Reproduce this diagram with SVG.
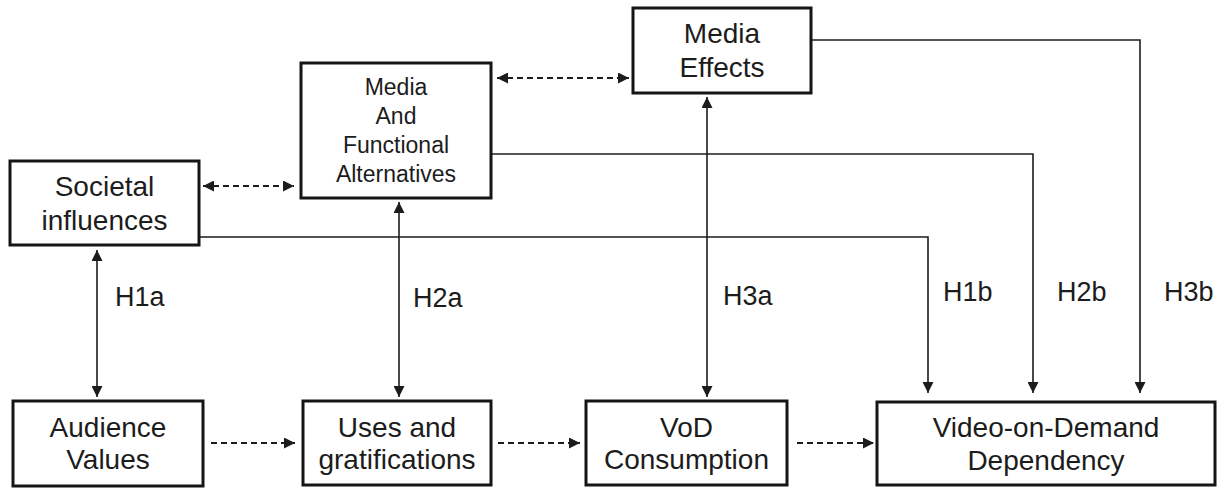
<svg xmlns="http://www.w3.org/2000/svg" width="1227" height="489" viewBox="0 0 1227 489">
  <style>
    .box { fill: #ffffff; stroke: #151515; stroke-width: 3; }
    .lbl { font-family: "Liberation Sans", Arial, sans-serif; font-size: 28px; fill: #1c1c1c; text-anchor: middle; }
    .lbl-sm { font-family: "Liberation Sans", Arial, sans-serif; font-size: 23px; fill: #1c1c1c; text-anchor: middle; }
    .hyp { font-family: "Liberation Sans", Arial, sans-serif; font-size: 27px; fill: #1c1c1c; }
    .solid { fill: none; stroke: #1c1c1c; stroke-width: 1.6; }
    .dash { fill: none; stroke: #1c1c1c; stroke-width: 1.8; stroke-dasharray: 6 4; }
  </style>
  <defs>
    <marker id="arrow" viewBox="0 0 10 10" refX="10" refY="5" markerWidth="11" markerHeight="11" markerUnits="userSpaceOnUse" orient="auto-start-reverse">
      <path d="M0,0 L10,5 L0,10 z" fill="#1c1c1c"/>
    </marker>
  </defs>
  <rect width="1227" height="489" fill="#ffffff"/>

  <!-- connectors -->
  <g id="connectors">
    <!-- hypothesis links (solid) -->
    <line class="solid" x1="97" y1="250" x2="97" y2="397" marker-start="url(#arrow)" marker-end="url(#arrow)"/>
    <line class="solid" x1="399" y1="202" x2="399" y2="397" marker-start="url(#arrow)" marker-end="url(#arrow)"/>
    <line class="solid" x1="707" y1="97" x2="707" y2="397" marker-start="url(#arrow)" marker-end="url(#arrow)"/>
    <path class="solid" d="M199,237 H928 V393" marker-end="url(#arrow)"/>
    <path class="solid" d="M491,154 H1033 V393" marker-end="url(#arrow)"/>
    <path class="solid" d="M811,40 H1140 V393" marker-end="url(#arrow)"/>
    <!-- dashed links -->
    <line class="dash" x1="203" y1="186" x2="294" y2="186" marker-start="url(#arrow)" marker-end="url(#arrow)"/>
    <line class="dash" x1="497" y1="78" x2="629" y2="78" marker-start="url(#arrow)" marker-end="url(#arrow)"/>
    <line class="dash" x1="211" y1="443" x2="295" y2="443" marker-end="url(#arrow)"/>
    <line class="dash" x1="498" y1="443" x2="580" y2="443" marker-end="url(#arrow)"/>
    <line class="dash" x1="797" y1="443" x2="874" y2="443" marker-end="url(#arrow)"/>
    <!-- hypothesis labels -->
    <text class="hyp" x="115" y="306">H1a</text>
    <text class="hyp" x="413" y="307">H2a</text>
    <text class="hyp" x="723" y="305">H3a</text>
    <text class="hyp" x="943" y="301">H1b</text>
    <text class="hyp" x="1057" y="301">H2b</text>
    <text class="hyp" x="1164" y="301">H3b</text>
  </g>

  <g id="societal-influences">
    <rect class="box" x="10" y="161" width="189" height="84"/>
    <text class="lbl" x="104.5" y="196">Societal</text>
    <text class="lbl" x="104.5" y="230">influences</text>
  </g>

  <g id="media-functional-alternatives">
    <rect class="box" x="301" y="63" width="190" height="135"/>
    <text class="lbl-sm" x="396" y="95">Media</text>
    <text class="lbl-sm" x="396" y="124">And</text>
    <text class="lbl-sm" x="396" y="153">Functional</text>
    <text class="lbl-sm" x="396" y="182">Alternatives</text>
  </g>

  <g id="media-effects">
    <rect class="box" x="633" y="8" width="178" height="85"/>
    <text class="lbl" x="722" y="43">Media</text>
    <text class="lbl" x="722" y="77">Effects</text>
  </g>

  <g id="audience-values">
    <rect class="box" x="13" y="401" width="190" height="85"/>
    <text class="lbl" x="108" y="437">Audience</text>
    <text class="lbl" x="108" y="469">Values</text>
  </g>

  <g id="uses-gratifications">
    <rect class="box" x="303" y="401" width="188" height="84"/>
    <text class="lbl" x="397" y="437">Uses and</text>
    <text class="lbl" x="397" y="469">gratifications</text>
  </g>

  <g id="vod-consumption">
    <rect class="box" x="586" y="401" width="201" height="84"/>
    <text class="lbl" x="686.5" y="437">VoD</text>
    <text class="lbl" x="686.5" y="469">Consumption</text>
  </g>

  <g id="vod-dependency">
    <rect class="box" x="877" y="402" width="338" height="83"/>
    <text class="lbl" x="1046" y="437">Video-on-Demand</text>
    <text class="lbl" x="1046" y="470">Dependency</text>
  </g>
</svg>
